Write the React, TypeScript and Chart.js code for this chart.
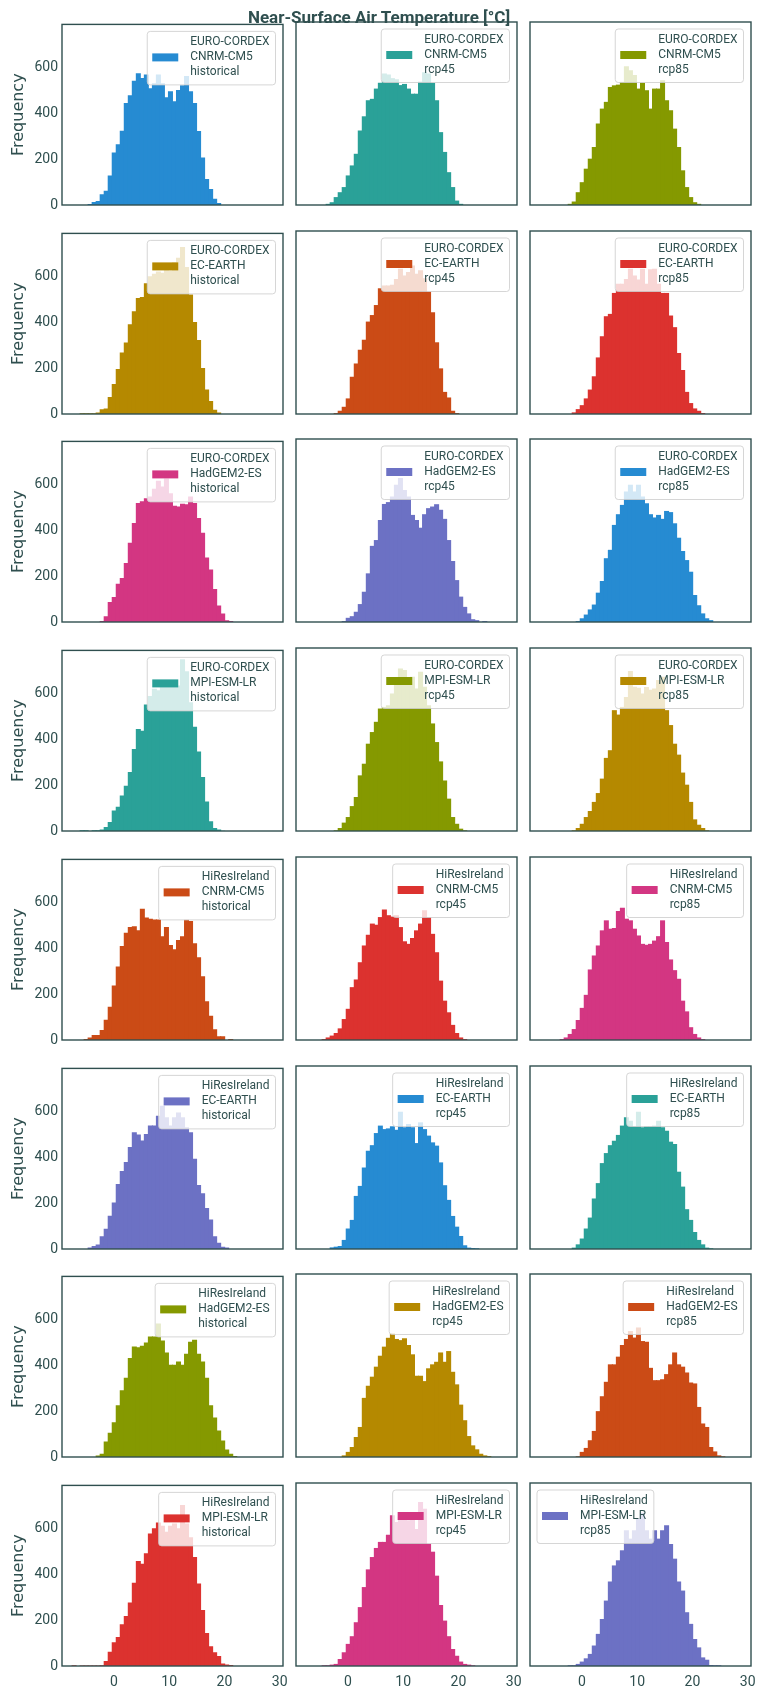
import React, { useEffect, useRef } from 'react';
import { Chart, registerables } from 'chart.js';

Chart.register(...registerables);

// Shared histogram bins (50 equal bins across the pooled temperature range)
const binStart = -7.58;
const binWidth = 0.727;

const xTicks = [0, 10, 20, 30];
const yTicks = [0, 200, 400, 600];
const xMin = -9.4;
const xMax = 30.6;
const yMax = 786;

const figureTitle = 'Near-Surface Air Temperature [°C]';
const yAxisTitle = 'Frequency';

const sources = ['EURO-CORDEX', 'HiResIreland'];
const drivingModels = ['CNRM-CM5', 'EC-EARTH', 'HadGEM2-ES', 'MPI-ESM-LR'];
const experiments = ['historical', 'rcp45', 'rcp85'];

const palette = ['#268bd2', '#2aa198', '#859900', '#b58900', '#cb4b16', '#dc322f', '#d33682', '#6c71c4'];

// Counts per bin, starting at bin 0
const cordexCnrmHist = [0, 0, 0, 0, 4, 13, 17, 47, 62, 128, 228, 264, 323, 444, 478, 541, 573, 553, 568, 508, 530, 568, 530, 469, 495, 452, 501, 521, 561, 495, 444, 322, 207, 113, 70, 27, 9];
const cordexCnrmRcp45 = [0, 0, 0, 0, 0, 5, 12, 34, 55, 77, 127, 170, 220, 320, 381, 450, 456, 500, 525, 565, 560, 545, 540, 515, 520, 500, 478, 478, 530, 570, 565, 525, 450, 313, 228, 141, 77, 19, 5];
const cordexCnrmRcp85 = [0, 0, 0, 0, 0, 0, 0, 5, 15, 55, 98, 156, 199, 249, 350, 414, 443, 507, 514, 517, 529, 596, 579, 558, 500, 525, 493, 414, 500, 500, 536, 450, 407, 328, 249, 149, 77, 34, 12, 5];

const cordexEcEarthHist = [0, 0, 3, 3, 3, 3, 7, 21, 24, 74, 131, 196, 268, 311, 391, 447, 505, 509, 569, 600, 610, 620, 615, 640, 625, 660, 680, 727, 640, 520, 400, 322, 200, 107, 57, 18, 6];
const cordexEcEarthRcp45 = [0, 0, 0, 0, 0, 0, 0, 4, 14, 31, 67, 160, 217, 276, 319, 397, 425, 468, 540, 552, 552, 555, 580, 624, 595, 610, 638, 602, 617, 583, 526, 437, 308, 196, 95, 71, 14, 4];
const cordexEcEarthRcp85 = [0, 0, 0, 0, 0, 0, 0, 0, 7, 21, 38, 67, 105, 162, 243, 334, 420, 430, 520, 559, 559, 580, 624, 595, 578, 624, 559, 622, 624, 559, 520, 520, 423, 373, 262, 189, 95, 47, 24, 14, 4];

const cordexHadgemHist = [0, 0, 0, 0, 0, 0, 0, 4, 25, 87, 109, 166, 192, 257, 345, 431, 518, 525, 539, 546, 580, 615, 590, 625, 560, 506, 503, 515, 512, 546, 518, 453, 388, 281, 228, 144, 72, 37, 8, 4];
const cordexHadgemRcp45 = [0, 0, 0, 0, 0, 0, 0, 0, 0, 4, 18, 25, 44, 77, 130, 209, 327, 352, 438, 507, 515, 539, 589, 618, 567, 539, 460, 438, 405, 463, 489, 496, 506, 482, 443, 352, 262, 180, 109, 65, 37, 12, 8, 1, 4];
const cordexHadgemRcp85 = [0, 0, 0, 0, 0, 0, 0, 0, 0, 4, 16, 32, 54, 75, 126, 176, 274, 310, 417, 463, 503, 561, 589, 561, 589, 539, 510, 463, 449, 460, 443, 477, 472, 424, 362, 305, 266, 216, 116, 72, 37, 16, 8];

const cordexMpiHist = [0, 0, 3, 3, 0, 3, 3, 6, 17, 39, 89, 106, 154, 197, 257, 357, 444, 436, 551, 587, 619, 613, 630, 627, 630, 645, 633, 748, 695, 560, 454, 346, 235, 128, 42, 13, 6, 1];
const cordexMpiRcp45 = [0, 0, 0, 0, 0, 0, 0, 3, 13, 36, 60, 107, 146, 239, 289, 375, 425, 469, 526, 533, 540, 591, 655, 698, 691, 634, 662, 612, 684, 620, 540, 462, 382, 299, 217, 139, 60, 31, 10, 3];
const cordexMpiRcp85 = [0, 0, 0, 0, 0, 0, 0, 0, 3, 13, 31, 60, 86, 125, 163, 225, 314, 347, 519, 500, 533, 576, 687, 620, 615, 591, 618, 607, 612, 649, 663, 519, 455, 375, 328, 251, 199, 125, 50, 27, 13, 3];

const hiresCnrmHist = [0, 0, 0, 4, 11, 22, 22, 43, 88, 145, 237, 320, 409, 467, 492, 495, 478, 571, 533, 528, 524, 524, 452, 492, 413, 395, 435, 452, 524, 518, 421, 360, 277, 169, 105, 47, 16, 16, 0, 4];
const hiresCnrmRcp45 = [0, 0, 0, 0, 4, 11, 19, 30, 50, 90, 134, 227, 260, 334, 406, 452, 500, 495, 528, 561, 536, 530, 536, 485, 424, 413, 438, 471, 500, 557, 528, 456, 377, 255, 169, 119, 65, 30, 11, 4];
const hiresCnrmRcp85 = [0, 0, 0, 0, 0, 4, 11, 26, 47, 86, 138, 194, 303, 363, 406, 471, 514, 478, 481, 554, 568, 521, 514, 478, 449, 413, 409, 413, 427, 446, 514, 421, 346, 300, 263, 169, 123, 55, 26, 11, 4];

const hiresEcEarthHist = [0, 0, 0, 0, 6, 13, 20, 56, 88, 145, 202, 283, 340, 379, 444, 508, 498, 472, 501, 537, 537, 580, 623, 573, 537, 573, 594, 573, 530, 508, 393, 279, 243, 178, 128, 56, 27, 10, 6];
const hiresEcEarthRcp45 = [0, 0, 0, 0, 0, 0, 7, 10, 13, 39, 88, 125, 228, 271, 350, 422, 446, 498, 530, 515, 518, 527, 512, 590, 523, 537, 523, 455, 544, 515, 487, 458, 444, 372, 274, 211, 142, 96, 56, 16, 6, 4, 3];
const hiresEcEarthRcp85 = [0, 0, 0, 0, 0, 0, 0, 0, 6, 20, 45, 88, 135, 217, 283, 369, 412, 446, 465, 490, 530, 566, 551, 527, 590, 523, 527, 527, 530, 551, 523, 508, 461, 451, 332, 268, 171, 125, 73, 39, 20, 6, 3];

const hiresHadgemHist = [0, 0, 0, 0, 0, 0, 7, 14, 67, 105, 151, 225, 291, 345, 431, 481, 478, 484, 498, 524, 524, 581, 507, 455, 402, 402, 416, 402, 449, 502, 510, 449, 416, 345, 225, 172, 115, 72, 33, 14, 4];
const hiresHadgemRcp45 = [0, 0, 0, 0, 0, 0, 0, 0, 0, 7, 22, 43, 86, 129, 254, 306, 345, 388, 435, 474, 512, 531, 507, 502, 510, 481, 441, 349, 349, 326, 381, 398, 409, 449, 409, 455, 366, 312, 225, 158, 90, 50, 33, 14, 7, 4];
const hiresHadgemRcp85 = [0, 0, 0, 0, 0, 0, 0, 0, 0, 3, 22, 39, 72, 112, 197, 261, 323, 398, 398, 431, 481, 507, 541, 513, 556, 498, 495, 383, 330, 330, 334, 356, 398, 449, 398, 388, 363, 320, 316, 215, 144, 129, 43, 24, 7, 3];

const hiresMpiHist = [3, 0, 2, 2, 2, 2, 2, 3, 22, 62, 103, 126, 182, 218, 276, 362, 457, 445, 491, 577, 599, 624, 610, 584, 610, 620, 599, 701, 620, 560, 474, 359, 244, 144, 86, 60, 43, 11, 7, 4];
const hiresMpiRcp45 = [0, 0, 0, 0, 3, 3, 6, 9, 30, 59, 95, 128, 188, 253, 339, 415, 468, 507, 533, 533, 564, 647, 618, 640, 661, 626, 658, 588, 704, 675, 525, 491, 388, 262, 195, 128, 73, 44, 19, 9, 6, 3];
const hiresMpiRcp85 = [0, 0, 0, 0, 0, 0, 0, 3, 3, 9, 19, 33, 52, 88, 138, 202, 281, 363, 432, 454, 497, 583, 547, 583, 633, 658, 583, 547, 583, 547, 583, 604, 524, 461, 363, 324, 231, 181, 116, 80, 37, 27, 4, 3, 3];

// Row-major panel order: rows are source/driving model, columns are experiments
const panelCounts = [
  cordexCnrmHist, cordexCnrmRcp45, cordexCnrmRcp85,
  cordexEcEarthHist, cordexEcEarthRcp45, cordexEcEarthRcp85,
  cordexHadgemHist, cordexHadgemRcp45, cordexHadgemRcp85,
  cordexMpiHist, cordexMpiRcp45, cordexMpiRcp85,
  hiresCnrmHist, hiresCnrmRcp45, hiresCnrmRcp85,
  hiresEcEarthHist, hiresEcEarthRcp45, hiresEcEarthRcp85,
  hiresHadgemHist, hiresHadgemRcp45, hiresHadgemRcp85,
  hiresMpiHist, hiresMpiRcp45, hiresMpiRcp85,
];

// Panels whose legend sits in the upper-left corner
const upperLeftLegends = new Set([23]);

// Grid geometry (page pixels)
const PANEL_LEFT = [62, 296, 530];
const PANEL_TOP = [22, 231, 439, 648, 857, 1066, 1274, 1483];
const PANEL_W = 221;
const PANEL_H = 183;
const PAD_L = 62;
const PAD_R = 14;
const PAD_T = 10;
const PAD_B = 34;

const TEXT = '#2f4f4f';
const TICK_FONT = { family: 'Roboto', size: 14 };

const framePlugin = {
  id: 'panelFrame',
  afterDatasetsDraw(chart: any) {
    const { ctx, chartArea } = chart;
    ctx.save();
    ctx.strokeStyle = TEXT;
    ctx.lineWidth = 1.4;
    ctx.strokeRect(chartArea.left, chartArea.top, chartArea.right - chartArea.left, chartArea.bottom - chartArea.top);
    ctx.restore();
  },
};

const legendPlugin = {
  id: 'panelLegend',
  afterDatasetsDraw(chart: any, _args: any, opts: any) {
    const { ctx, chartArea } = chart;
    const lines: string[] = opts.lines;
    ctx.save();
    ctx.font = '12px Roboto';
    const textW = Math.max(...lines.map((l) => ctx.measureText(l).width));
    const boxW = 43 + textW + 6;
    const boxH = 53.5;
    const x = opts.upperLeft ? chartArea.left + 7 : chartArea.right - 7.5 - boxW;
    const y = chartArea.top + 7;
    ctx.beginPath();
    ctx.roundRect(x, y, boxW, boxH, 3);
    ctx.fillStyle = 'rgba(255,255,255,0.8)';
    ctx.fill();
    ctx.strokeStyle = 'rgba(204,204,204,0.8)';
    ctx.lineWidth = 1;
    ctx.stroke();
    ctx.fillStyle = opts.color;
    ctx.fillRect(x + 5, y + 22, 26, 8);
    ctx.fillStyle = TEXT;
    ctx.textBaseline = 'middle';
    ctx.textAlign = 'left';
    lines.forEach((l, k) => ctx.fillText(l, x + 43, y + 11 + k * 14.75));
    ctx.restore();
  },
};

function HistPanel({ index }: { index: number }) {
  const ref = useRef<HTMLCanvasElement>(null);
  const row = Math.floor(index / 3);
  const col = index % 3;
  const width = PANEL_W + PAD_L + PAD_R;
  const height = PANEL_H + PAD_T + PAD_B;

  useEffect(() => {
    const canvas = ref.current;
    if (!canvas) return;
    const counts = panelCounts[index];
    const color = palette[index % palette.length];
    const lines = [sources[row >= 4 ? 1 : 0], drivingModels[row % 4], experiments[col]];
    const showX = row === PANEL_TOP.length - 1;
    const showY = col === 0;

    const chart = new Chart(canvas, {
      type: 'bar',
      data: {
        datasets: [
          {
            label: lines.join(' '),
            data: counts.map((c, i) => ({ x: binStart + binWidth * (i + 0.5), y: c === 0 ? null : c })),
            backgroundColor: color,
            borderWidth: 0,
            // slight overlap so neighbouring bins merge without hairline seams
            barPercentage: 1.25,
            categoryPercentage: 1,
            inflateAmount: 0,
            grouped: false,
          } as any,
        ],
      },
      options: {
        animation: false,
        responsive: false,
        events: [],
        layout: { padding: { top: PAD_T, right: PAD_R, left: 0, bottom: 0 }, autoPadding: false } as any,
        plugins: {
          legend: { display: false },
          tooltip: { enabled: false },
          panelLegend: { lines, color, upperLeft: upperLeftLegends.has(index) },
        } as any,
        scales: {
          x: {
            type: 'linear',
            min: xMin,
            max: xMax,
            offset: false,
            grid: { display: false, drawTicks: false },
            border: { display: false },
            ticks: { display: showX, padding: 8, color: TEXT, font: TICK_FONT, maxRotation: 0 },
            afterBuildTicks: (s: any) => {
              s.ticks = xTicks.map((v) => ({ value: v }));
            },
            afterFit: (s: any) => {
              s.height = PAD_B;
            },
          },
          y: {
            type: 'linear',
            min: 0,
            max: yMax,
            grid: { display: false, drawTicks: false },
            border: { display: false },
            ticks: { display: showY, padding: 4, color: TEXT, font: TICK_FONT },
            title: {
              display: showY,
              text: yAxisTitle,
              color: TEXT,
              font: { family: 'DejaVu Sans', size: 16 },
              padding: { top: 9, bottom: 0 },
            },
            afterBuildTicks: (s: any) => {
              s.ticks = yTicks.map((v) => ({ value: v }));
            },
            afterFit: (s: any) => {
              s.width = PAD_L;
            },
          },
        } as any,
      },
      plugins: [framePlugin, legendPlugin],
    });
    return () => chart.destroy();
  }, [index, row, col]);

  return (
    <canvas
      ref={ref}
      width={width}
      height={height}
      style={{ position: 'absolute', left: PANEL_LEFT[col] - PAD_L, top: PANEL_TOP[row] - PAD_T, width, height }}
    />
  );
}

export default function App() {
  return (
    <div style={{ position: 'absolute', left: 0, top: 0, width: 764, height: 1698, background: '#ffffff', overflow: 'hidden' }}>
      {panelCounts.map((_, i) => (
        <HistPanel key={i} index={i} />
      ))}
      <div
        style={{
          position: 'absolute',
          left: 0,
          top: 8,
          width: 758,
          textAlign: 'center',
          fontFamily: 'Roboto',
          fontWeight: 700,
          fontSize: 17,
          lineHeight: '18px',
          color: TEXT,
          zIndex: 2,
          pointerEvents: 'none',
        }}
      >
        {figureTitle}
      </div>
    </div>
  );
}
